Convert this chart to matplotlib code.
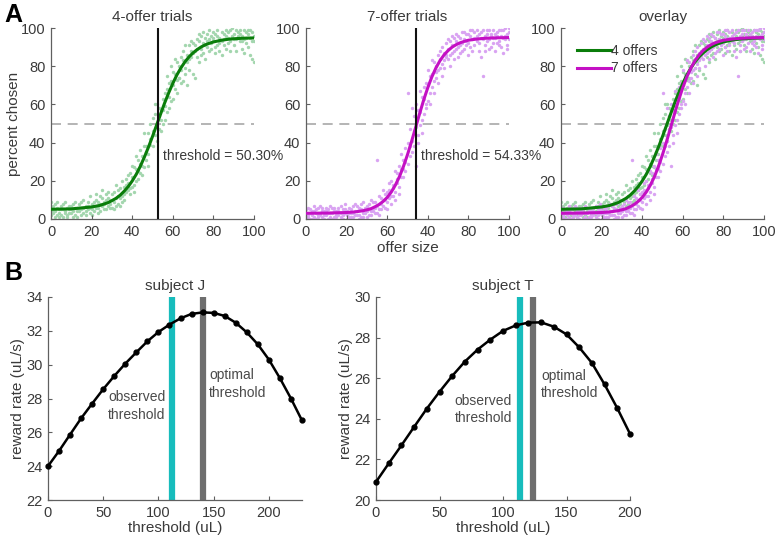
import matplotlib
matplotlib.use("Agg")
import matplotlib.pyplot as plt
from matplotlib.ticker import FixedLocator, FixedFormatter

# ---- panel A data: choice curves ----
offer = list(range(0, 101))

# three observed points per offer size, 4-offer trials
pts4_a = [6, 3, 8, 2, 5, 7, 1, 4, 6, 3,
          5, 8, 2, 6, 4, 9, 3, 7, 5, 6,
          8, 4, 10, 6, 12, 7, 9, 5, 11, 8,
          13, 9, 7, 15, 11, 12, 17, 14, 19, 16,
          22, 18, 26, 21, 29, 33, 27, 38, 34, 42,
          46, 55, 49, 58, 52, 63, 59, 68, 64, 72,
          70, 76, 73, 80, 78, 83, 79, 86, 84, 88,
          87, 91, 85, 93, 89, 92, 95, 90, 94, 96,
          93, 97, 91, 95, 98, 94, 96, 92, 99, 95,
          97, 94, 98, 93, 96, 99, 92, 97, 95, 98, 96]
pts4_b = [2, 7, 4, 9, 1, 5, 8, 3, 2, 7,
          3, 1, 6, 4, 8, 2, 6, 4, 9, 3,
          5, 9, 6, 3, 8, 11, 5, 13, 7, 10,
          6, 14, 11, 8, 16, 9, 13, 21, 15, 24,
          17, 27, 20, 31, 24, 28, 38, 31, 45, 39,
          53, 44, 60, 47, 57, 50, 66, 56, 71, 62,
          77, 68, 82, 74, 71, 88, 76, 82, 91, 85,
          76, 88, 94, 82, 96, 87, 91, 97, 88, 92,
          98, 90, 96, 88, 93, 97, 89, 98, 93, 96,
          91, 99, 95, 97, 89, 94, 98, 90, 99, 84, 93]
pts4_c = [9, 4, 1, 6, 3, 2, 5, 9, 1, 5,
          7, 4, 9, 1, 6, 5, 10, 2, 7, 12,
          2, 7, 13, 9, 4, 15, 8, 10, 14, 6,
          10, 5, 18, 12, 7, 20, 10, 18, 23, 13,
          28, 14, 33, 25, 36, 23, 45, 35, 28, 50,
          38, 60, 41, 54, 46, 57, 52, 75, 58, 80,
          63, 84, 66, 74, 85, 72, 91, 70, 78, 93,
          92, 74, 89, 97, 86, 98, 84, 93, 99, 89,
          95, 87, 99, 92, 86, 91, 99, 95, 88, 100,
          94, 88, 96, 99, 93, 87, 95, 99, 86, 93, 82]

# three observed points per offer size, 7-offer trials
pts7_a = [3, 1, 5, 2, 4, 0, 6, 3, 1, 4,
          2, 5, 1, 3, 6, 2, 4, 1, 5, 3,
          2, 6, 3, 1, 4, 7, 2, 5, 3, 6,
          4, 8, 2, 6, 9, 31, 5, 11, 7, 13,
          9, 15, 12, 18, 14, 21, 17, 26, 22, 30,
          66, 33, 41, 38, 48, 44, 56, 52, 63, 60,
          70, 66, 76, 72, 80, 78, 84, 81, 87, 85,
          89, 86, 91, 88, 93, 90, 95, 92, 94, 97,
          92, 96, 94, 98, 93, 97, 95, 75, 96, 99,
          94, 97, 99, 95, 98, 93, 96, 99, 94, 97, 98]
pts7_b = [5, 2, 0, 4, 1, 3, 2, 7, 4, 2,
          4, 0, 3, 6, 1, 4, 2, 7, 0, 5,
          4, 1, 5, 3, 8, 2, 6, 1, 9, 3,
          7, 2, 10, 4, 6, 3, 12, 8, 15, 10,
          14, 11, 20, 16, 25, 19, 28, 34, 26, 37,
          40, 47, 35, 54, 28, 57, 49, 64, 55, 71,
          62, 75, 69, 82, 74, 86, 79, 90, 83, 92,
          84, 93, 87, 95, 89, 96, 91, 88, 98, 93,
          97, 90, 99, 91, 96, 88, 98, 94, 91, 97,
          99, 90, 95, 97, 92, 99, 90, 95, 100, 91, 94]
pts7_c = [1, 6, 3, 0, 7, 5, 1, 2, 6, 0,
          6, 3, 7, 0, 4, 1, 6, 3, 2, 8,
          0, 3, 1, 7, 2, 4, 0, 8, 1, 5,
          1, 5, 4, 9, 3, 7, 2, 5, 10, 6,
          5, 19, 8, 12, 10, 24, 13, 22, 31, 25,
          29, 38, 58, 46, 60, 40, 67, 45, 69, 58,
          78, 60, 83, 66, 77, 71, 88, 75, 79, 86,
          94, 80, 96, 84, 97, 85, 87, 98, 89, 91,
          86, 99, 88, 95, 99, 92, 85, 99, 88, 93,
          89, 96, 92, 88, 96, 91, 99, 87, 96, 89, 100]

# fitted curves
fit_x = [0, 10, 20, 24, 28, 30, 32, 34, 36, 38, 40, 42, 44, 46, 48, 50,
         52, 54, 56, 58, 60, 62, 64, 66, 68, 70, 72, 74, 76, 78, 80,
         84, 88, 92, 96, 100]
fit4 = [5.1, 5.3, 6.3, 7.1, 8.5, 9.6, 10.8, 12.4, 14.5, 16.9, 19.9, 23.4,
        27.6, 32.4, 37.6, 43.2, 49.1, 55.0, 60.8, 66.1, 71.0, 75.4, 79.1,
        82.3, 84.9, 87.0, 88.7, 90.1, 91.2, 92.0, 92.7, 93.6, 94.2, 94.5,
        94.7, 94.8]
fit7 = [3.0, 3.1, 3.4, 3.7, 4.3, 4.8, 5.4, 6.4, 7.6, 9.2, 11.3, 14.1,
        17.7, 22.1, 27.5, 33.7, 40.6, 47.9, 55.3, 62.4, 68.8, 74.4, 79.1,
        82.9, 85.9, 88.2, 90.0, 91.3, 92.3, 93.0, 93.6, 94.2, 94.6, 94.8,
        94.9, 95.0]
thresh4 = 52.6
thresh7 = 54.3
a_ticks = [0, 20, 40, 60, 80, 100]
mid_ticklabels = ['0', '20', '60', '40', '80', '100']  # as printed in the figure

# ---- panel B data: reward rate vs threshold ----
thr_J = list(range(0, 231, 10))
rate_J = [24.0, 24.9, 25.87, 26.83, 27.7, 28.55, 29.33, 30.06, 30.73, 31.38,
          31.93, 32.37, 32.74, 33.0, 33.09, 33.06, 32.88, 32.48, 31.91, 31.2,
          30.3, 29.2, 28.0, 26.7]
obs_J, opt_J = 112.5, 140

thr_T = list(range(0, 201, 10))
rate_T = [20.89, 21.8, 22.69, 23.6, 24.5, 25.33, 26.11, 26.82, 27.41, 27.9,
          28.33, 28.6, 28.74, 28.75, 28.54, 28.16, 27.52, 26.75, 25.69, 24.52,
          23.26]
obs_T, opt_T = 113, 124

GREEN = '#0a7d0a'
GREEN_PTS = '#a3d6ae'
MAG = '#c410c4'
MAG_PTS = '#d9a3f2'
CYAN = '#17bcbc'
GRAY = '#6e6e6e'
TXT = '#3a3a3a'

plt.rcParams['font.family'] = 'Liberation Sans'
plt.rcParams['font.size'] = 10

W, H = 775, 540
fig = plt.figure(figsize=(W / 100, H / 100), dpi=100)


def ax_at(left, right, top, bottom):
    return fig.add_axes([left / W, 1 - bottom / H, (right - left) / W, (bottom - top) / H])


def style(ax):
    for s in ['top', 'right']:
        ax.spines[s].set_visible(False)
    for s in ['left', 'bottom']:
        ax.spines[s].set_color('#606060')
        ax.spines[s].set_linewidth(0.9)
    ax.tick_params(direction='in', length=3, width=0.8, colors='#606060',
                   labelcolor=TXT, labelsize=10.5, pad=4)


def scatter_all(ax, lists, color):
    for ys in lists:
        ax.scatter(offer, ys, s=6, color=color, linewidths=0, zorder=1)


panel_a = []
for left in (51, 306, 561):
    ax = ax_at(left, left + 203, 28, 219)
    style(ax)
    ax.set_xlim(0, 100)
    ax.set_ylim(0, 100)
    ax.set_xticks(a_ticks)
    ax.set_yticks(a_ticks)
    ax.axhline(50, color='#a8a8a8', lw=1.2, ls=(0, (6, 4)), zorder=0)
    panel_a.append(ax)

a1, a2, a3 = panel_a

scatter_all(a1, [pts4_a, pts4_b, pts4_c], GREEN_PTS)
a1.plot(fit_x, fit4, color=GREEN, lw=2.2, zorder=3)
a1.axvline(thresh4, color='#111111', lw=1.5, zorder=4)
a1.text(thresh4 + 2.5, 33, 'threshold = 50.30%', color=TXT, fontsize=10, va='center')
a1.set_title('4-offer trials', fontsize=11, color=TXT, pad=5)
a1.set_ylabel('percent chosen', fontsize=11, color=TXT, labelpad=0)

scatter_all(a2, [pts7_a, pts7_b, pts7_c], MAG_PTS)
a2.plot(fit_x, fit7, color=MAG, lw=2.2, zorder=3)
a2.axvline(thresh7, color='#111111', lw=1.5, zorder=4)
a2.text(thresh7 + 2.5, 33, 'threshold = 54.33%', color=TXT, fontsize=10, va='center')
a2.set_title('7-offer trials', fontsize=11, color=TXT, pad=5)
a2.set_xlabel('offer size', fontsize=11, color=TXT, labelpad=2)
a2.xaxis.set_major_locator(FixedLocator(a_ticks))
a2.xaxis.set_major_formatter(FixedFormatter(mid_ticklabels))

scatter_all(a3, [pts4_a, pts4_b, pts4_c], GREEN_PTS)
scatter_all(a3, [pts7_a, pts7_b, pts7_c], MAG_PTS)
a3.plot(fit_x, fit4, color=GREEN, lw=2.2, zorder=3, label='4 offers')
a3.plot(fit_x, fit7, color=MAG, lw=2.2, zorder=3, label='7 offers')
a3.set_title('overlay', fontsize=11, color=TXT, pad=5)
leg = a3.legend(loc='upper left', frameon=False, fontsize=10, handlelength=2.4,
                handletextpad=0.05, borderaxespad=0.2, labelspacing=0.25,
                bbox_to_anchor=(0.04, 0.96))
for t in leg.get_texts():
    t.set_color(TXT)


def reward_panel(left, right, thr, rate, obs, opt, ylim, title, obs_y, opt_y, xmax):
    ax = ax_at(left, right, 297, 500)
    style(ax)
    ax.axvline(obs, color=CYAN, lw=4.5, zorder=1)
    ax.axvline(opt, color=GRAY, lw=4.5, zorder=1)
    ax.plot(thr, rate, color='black', lw=1.8, marker='o', ms=3.5, zorder=3,
            clip_on=False)
    ax.set_xlim(0, xmax)
    ax.set_ylim(*ylim)
    ax.set_xticks([0, 50, 100, 150, 200])
    ax.set_yticks(list(range(ylim[0], ylim[1] + 1, 2)))
    ax.set_title(title, fontsize=11, color=TXT, pad=5)
    ax.set_xlabel('threshold (uL)', fontsize=11, color=TXT, labelpad=1)
    ax.set_ylabel('reward rate (uL/s)', fontsize=11, color=TXT, labelpad=1)
    ax.text(obs - 6, obs_y, 'observed\nthreshold', ha='right', va='center',
            fontsize=10, color='#4a4a4a', linespacing=1.3)
    ax.text(opt + 6, opt_y, 'optimal\nthreshold', ha='left', va='center',
            fontsize=10, color='#4a4a4a', linespacing=1.3)
    return ax


reward_panel(48, 302, thr_J, rate_J, obs_J, opt_J, (22, 34), 'subject J', 27.55, 28.85, 230)
reward_panel(376, 630, thr_T, rate_T, obs_T, opt_T, (20, 30), 'subject T', 24.45, 25.7, 200)

fig.text(4 / W, 1 - 15 / H, 'A', fontsize=18, fontweight='bold', va='center')
fig.text(4 / W, 1 - 273 / H, 'B', fontsize=18, fontweight='bold', va='center')

fig.savefig('out.png', dpi=100, facecolor='white')
